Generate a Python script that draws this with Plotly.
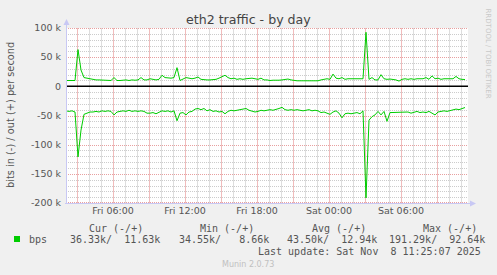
import pandas as pd
import plotly.graph_objects as go

# ---- data (kilobits per second), 15-minute samples starting Fri 2025-11-07 02:05 ----
start_time = "2025-11-07 02:05"
step_minutes = 15

out_k = [10, 10, 9.5, 10, 63, 28, 15, 14, 12, 12,
         11, 11, 10.5, 11, 10.5, 10, 15, 10, 10, 10.5,
         11, 10, 11, 10.5, 11, 15, 11, 11, 13, 12,
         11, 12, 19, 15, 14, 14, 15, 32, 10, 12,
         15, 14, 13, 14, 16, 12, 11, 11, 11, 11.5,
         12, 14, 16, 19, 15, 13, 14, 12, 13, 12,
         13, 14, 14, 13, 12, 14, 11, 11, 10, 10.5,
         10, 10.5, 11, 12, 12.5, 11, 10, 9.5, 9.5, 9.5,
         10, 9.5, 9.5, 10, 9.5, 11, 12, 13, 12, 21,
         14, 13, 15, 12, 13, 13, 13.5, 13, 13.5, 13,
         92.64, 12, 15, 11, 11, 20, 13, 12, 12.5, 12,
         11, 9, 12, 13, 12, 13, 12, 13, 12.5, 13,
         15, 12, 18, 13, 14, 12, 13, 13, 12, 13,
         17, 13, 12, 11.63]

in_k = [42, 43, 42, 44, 121, 75, 48, 46, 44, 44,
        43, 44, 42, 43, 42, 43, 49, 44, 43, 42,
        43, 41, 43, 42, 43, 42, 43, 46, 46, 45,
        47, 44, 42, 43, 42, 44, 42, 59, 46, 45,
        49, 44, 43, 39, 38, 40, 38, 42, 40, 43,
        42, 44, 43, 47, 43, 41, 42, 41, 40, 39,
        38, 41, 42, 44, 43, 41, 42, 41, 40, 41,
        40, 38, 36, 40, 41, 40, 41, 40, 41, 42,
        41, 40, 42, 41, 42, 45, 44, 46, 48, 44,
        42, 46, 54, 47, 46, 47, 46, 45, 47, 42,
        191.29, 58, 52, 49, 43, 49, 43, 60, 45, 45,
        44, 45, 44, 45, 44, 46, 44, 43, 45, 44,
        45, 43, 46, 49, 44, 43, 42, 43, 42, 40,
        39, 40, 38, 36.33]

x_tick_times = ["2025-11-07 06:00", "2025-11-07 12:00", "2025-11-07 18:00",
                "2025-11-08 00:00", "2025-11-08 06:00"]
x_tick_labels = ["Fri 06:00", "Fri 12:00", "Fri 18:00", "Sat 00:00", "Sat 06:00"]
y_tick_vals = [-200000, -150000, -100000, -50000, 0, 50000, 100000]
y_tick_labels = ["-200 k", "-150 k", "-100 k", "-50 k", "0", "50 k", "100 k"]

legend_headers = ["Cur (-/+)", "Min (-/+)", "Avg (-/+)", "Max (-/+)"]
legend_values = ["36.33k/  11.63k", "34.55k/   8.66k", "43.50k/  12.94k", "191.29k/  92.64k"]
series_name = "bps"
title_text = "eth2 traffic - by day"
last_update = "Last update: Sat Nov  8 11:25:07 2025"
footer = "Munin 2.0.73"
side_text = "RRDTOOL / TOBI OETIKER"

# ---- build ----
times = pd.date_range(start=start_time, periods=len(out_k), freq=f"{step_minutes}min")
out_v = [v * 1000 for v in out_k]
in_v = [-v * 1000 for v in in_k]

X_RANGE = [pd.Timestamp("2025-11-07 02:05"), pd.Timestamp("2025-11-08 11:35")]
Y_RANGE = [-200000, 100000]

W, H = 497, 275
L, R, T, B = 66, 468, 28, 203


def px(x):
    return (x - L) / (R - L)


def py(y):
    return (B - y) / (B - T)


GREEN = "#00CC00"
TXT = "#555555"
RED_GRID = "#E8A0A0"
GREY_GRID = "#CCCCCC"
RED_GRID_V = "#F0BCBC"
GREY_GRID_V = "#DDDDDD"
DOT = "1px,1px"

fig = go.Figure()
fig.add_trace(go.Scatter(x=times, y=out_v, mode="lines", line=dict(color=GREEN, width=1),
                         showlegend=False, hoverinfo="skip"))
fig.add_trace(go.Scatter(x=times, y=in_v, mode="lines", line=dict(color=GREEN, width=1),
                         showlegend=False, hoverinfo="skip"))

fig.update_layout(
    width=W, height=H,
    margin=dict(l=L, r=W - R, t=T, b=H - B, pad=0),
    paper_bgcolor="#F0F0F0",
    plot_bgcolor="#FFFFFF",
    font=dict(family="DejaVu Sans", size=9.5, color=TXT),
    showlegend=False,
)
fig.update_xaxes(
    range=X_RANGE, tickvals=x_tick_times, ticktext=x_tick_labels,
    showgrid=False, ticks="", showline=False, zeroline=False,
    tickfont=dict(size=9.5, color=TXT),
)
fig.update_yaxes(
    range=Y_RANGE, tickvals=y_tick_vals, ticktext=y_tick_labels,
    showgrid=False, ticks="", showline=False, zeroline=False,
    tickfont=dict(size=9.5, color=TXT),
    ticklabelstandoff=4,
)

shapes = []
# vertical grid: every hour (grey), every 3 hours (red); snapped to pixel centres
x_span_s = (X_RANGE[1] - X_RANGE[0]).total_seconds()
for h in pd.date_range("2025-11-07 03:00", "2025-11-08 11:00", freq="1h"):
    colx = round(L + (h - X_RANGE[0]).total_seconds() / x_span_s * (R - L))
    col = RED_GRID_V if h.hour % 3 == 0 else GREY_GRID_V
    shapes.append(dict(type="line", xref="paper", yref="paper", x0=px(colx + 0.5), x1=px(colx + 0.5),
                       y0=0, y1=1, line=dict(color=col, width=1), layer="below"))
# horizontal grid: every 10k (grey), every 50k (red)
span = Y_RANGE[1] - Y_RANGE[0]
for v in range(Y_RANGE[0], Y_RANGE[1] + 1, 10000):
    if v == 0:
        continue
    row = round(T + (Y_RANGE[1] - v) / span * (B - T))
    row = min(max(row, T), B - 1)
    col = RED_GRID if v % 50000 == 0 else GREY_GRID
    shapes.append(dict(type="line", xref="paper", yref="paper", x0=0, x1=1, y0=py(row + 0.5), y1=py(row + 0.5),
                       line=dict(color=col, width=1, dash=DOT), layer="below"))
# zero baseline
shapes.append(dict(type="line", xref="paper", yref="y", x0=0, x1=1, y0=0, y1=0,
                   line=dict(color="#000000", width=1.5), layer="below"))

AX = "#C8C8F4"
shapes += [
    dict(type="line", xref="paper", yref="paper", x0=px(L + 0.5), x1=px(L + 0.5), y0=py(B + 1), y1=py(T - 4),
         line=dict(color=AX, width=1)),
    dict(type="line", xref="paper", yref="paper", x0=px(L - 1), x1=px(R + 2), y0=py(B + 0.5), y1=py(B + 0.5),
         line=dict(color=AX, width=1)),
    dict(type="path", xref="paper", yref="paper",
         path=f"M {px(L-2.5)} {py(T-3)} L {px(L+3.5)} {py(T-3)} L {px(L+0.5)} {py(T-9)} Z",
         fillcolor=AX, line=dict(width=0)),
    dict(type="path", xref="paper", yref="paper",
         path=f"M {px(R+2)} {py(B-2.5)} L {px(R+2)} {py(B+3.5)} L {px(R+8)} {py(B+0.5)} Z",
         fillcolor=AX, line=dict(width=0)),
    dict(type="rect", xref="paper", yref="paper", x0=px(14), x1=px(20), y0=py(242), y1=py(236),
         fillcolor=GREEN, line=dict(width=0)),
]
fig.update_layout(shapes=shapes)

mono = dict(family="DejaVu Sans Mono", size=10, color=TXT)
ann = []
ann.append(dict(text=title_text, x=px(248.5), y=py(19), xanchor="center", yanchor="middle",
                font=dict(family="DejaVu Sans", size=12.6, color="#444444")))
ann.append(dict(text="bits in (-) / out (+) per second", x=px(10.5), y=py(115.5), textangle=-90,
                xanchor="center", yanchor="middle", font=dict(family="DejaVu Sans", size=9.8, color=TXT)))
ann.append(dict(text=side_text, x=px(487.5), y=py(53), textangle=90, xanchor="center", yanchor="middle",
                font=dict(family="DejaVu Sans", size=7, color="#C8C8C8")))
hdr_x = [115.5, 226.5, 339, 450]
val_x = [115, 223.5, 332, 437]
for h, xx in zip(legend_headers, hdr_x):
    ann.append(dict(text=h, x=px(xx), y=py(228), xanchor="center", yanchor="middle", font=mono))
for v, xx in zip(legend_values, val_x):
    ann.append(dict(text=v.replace(" ", "&nbsp;"), x=px(xx), y=py(239.5), xanchor="center", yanchor="middle", font=mono))
ann.append(dict(text=series_name, x=px(27), y=py(239.5), xanchor="left", yanchor="middle", font=mono))
ann.append(dict(text=last_update.replace(" ", "&nbsp;"), x=px(482.5), y=py(251), xanchor="right", yanchor="middle", font=mono))
ann.append(dict(text=footer, x=px(248), y=py(264), xanchor="center", yanchor="middle",
                font=dict(family="DejaVu Sans", size=8, color="#C0C0C0")))
for a in ann:
    a.update(xref="paper", yref="paper", showarrow=False)
fig.update_layout(annotations=ann)

fig.write_html("out.html")
